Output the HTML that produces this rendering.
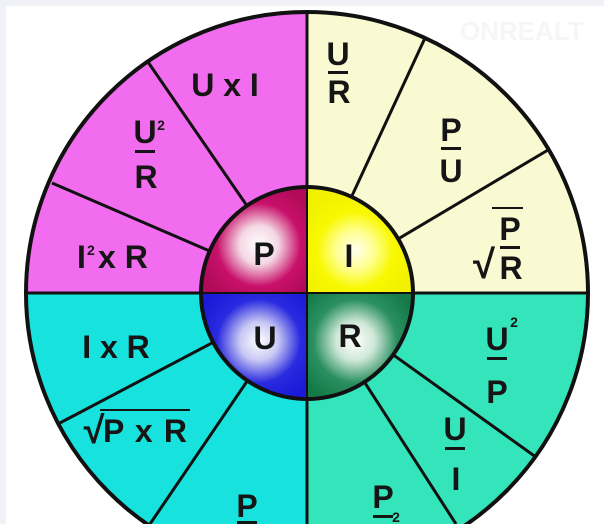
<!DOCTYPE html>
<html><head><meta charset="utf-8">
<style>
html,body{margin:0;padding:0;background:#fff;width:604px;height:524px;overflow:hidden;}
svg{display:block;}
text{font-family:"Liberation Sans",Arial,sans-serif;font-weight:bold;fill:#151515;}
</style></head>
<body>
<svg width="604" height="524" viewBox="0 0 604 524" xmlns="http://www.w3.org/2000/svg">
<defs>
<radialGradient id="gP" cx="0.55" cy="0.55" r="0.6"><stop offset="0" stop-color="#fff"/><stop offset="0.3" stop-color="#f4d8e4"/><stop offset="0.65" stop-color="#c8106a"/><stop offset="1" stop-color="#b00a58"/></radialGradient>
<radialGradient id="gI" cx="0.45" cy="0.6" r="0.6"><stop offset="0" stop-color="#fffff0"/><stop offset="0.3" stop-color="#ffff90"/><stop offset="0.6" stop-color="#f8f800"/><stop offset="1" stop-color="#f0f000"/></radialGradient>
<radialGradient id="gU" cx="0.55" cy="0.45" r="0.6"><stop offset="0" stop-color="#fff"/><stop offset="0.3" stop-color="#c8c8f4"/><stop offset="0.65" stop-color="#2a2ae0"/><stop offset="1" stop-color="#1a1ad8"/></radialGradient>
<radialGradient id="gR" cx="0.45" cy="0.45" r="0.6"><stop offset="0" stop-color="#fff"/><stop offset="0.3" stop-color="#cfe8d8"/><stop offset="0.65" stop-color="#2a9060"/><stop offset="1" stop-color="#157a48"/></radialGradient>
<clipPath id="outer"><circle cx="307" cy="293" r="281"/></clipPath>
<clipPath id="inner"><circle cx="307" cy="293" r="106"/></clipPath>
<clipPath id="frame"><rect x="0" y="0" width="604" height="524"/></clipPath>
</defs>
<g clip-path="url(#frame)">
<rect x="0" y="0" width="604" height="6" fill="#f1f1f8"/>
<rect x="0" y="0" width="6" height="524" fill="#f1f1f8"/>
<g clip-path="url(#outer)">
<rect x="0" y="0" width="307" height="293" fill="#f26cf0"/>
<rect x="307" y="0" width="297" height="293" fill="#fafad2"/>
<rect x="0" y="293" width="307" height="231" fill="#18e2de"/>
<rect x="307" y="293" width="297" height="231" fill="#34e4ba"/>
<g stroke="#111" stroke-width="3">
<line x1="307" y1="0" x2="307" y2="524"/>
<line x1="0" y1="293" x2="604" y2="293"/>
<line x1="307" y1="293" x2="148" y2="62"/>
<line x1="307" y1="293" x2="52" y2="183"/>
<line x1="307" y1="293" x2="425" y2="38"/>
<line x1="307" y1="293" x2="548" y2="150"/>
<line x1="307" y1="293" x2="56" y2="425"/>
<line x1="307" y1="293" x2="150" y2="524"/>
<line x1="307" y1="293" x2="547" y2="465"/>
<line x1="307" y1="293" x2="456" y2="524"/>
</g>
</g>
<circle cx="307" cy="293" r="281" fill="none" stroke="#111" stroke-width="4"/>
<g clip-path="url(#inner)">
<rect x="200" y="186" width="107" height="107" fill="url(#gP)"/>
<rect x="307" y="186" width="107" height="107" fill="url(#gI)"/>
<rect x="200" y="293" width="107" height="107" fill="url(#gU)"/>
<rect x="307" y="293" width="107" height="107" fill="url(#gR)"/>
<line x1="307" y1="180" x2="307" y2="410" stroke="#111" stroke-width="2"/>
<line x1="195" y1="293" x2="420" y2="293" stroke="#111" stroke-width="2"/>
</g>
<circle cx="307" cy="293" r="106" fill="none" stroke="#111" stroke-width="4"/>
<g font-size="32" text-anchor="middle">
<text x="264" y="265">P</text>
<text x="349" y="267">I</text>
<text x="265" y="349">U</text>
<text x="350" y="347">R</text>
</g>
<g font-size="32" text-anchor="middle">
<text x="225" y="96">U x I</text>
<text x="145" y="143">U</text><rect x="135" y="150" width="20" height="3" fill="#151515"/><text x="146" y="188">R</text>
<text x="161" y="130" font-size="14">2</text>
<text x="77" y="268" text-anchor="start">I</text><text x="87" y="255" font-size="14" text-anchor="start">2</text>
<text x="98" y="268" text-anchor="start">x R</text>
<text x="338" y="65">U</text><rect x="328" y="71" width="20" height="3" fill="#151515"/><text x="339" y="103">R</text>
<text x="451" y="141">P</text><rect x="441" y="147" width="20" height="3" fill="#151515"/><text x="451" y="182">U</text>
<text x="510" y="240">P</text><rect x="500" y="246" width="20" height="3" fill="#151515"/><text x="511" y="279">R</text>
<text x="484" y="278" font-size="40" font-weight="normal">√</text>
<line x1="492" y1="208" x2="523" y2="208" stroke="#151515" stroke-width="2"/>
<text x="116" y="358">I x R</text>
<text x="145" y="442" textLength="84">P x R</text>
<text x="94" y="443" font-size="38" font-weight="normal">√</text>
<line x1="100" y1="410" x2="190" y2="410" stroke="#151515" stroke-width="2"/>
<text x="247" y="517">P</text><rect x="237" y="521" width="20" height="3" fill="#151515"/>
<text x="497" y="350">U</text><rect x="487" y="357" width="20" height="3" fill="#151515"/><text x="497" y="403">P</text>
<text x="514" y="327" font-size="14">2</text>
<text x="455" y="440">U</text><rect x="445" y="447" width="20" height="3" fill="#151515"/><text x="456" y="490">I</text>
<text x="383" y="508">P</text><rect x="373" y="515" width="20" height="3" fill="#151515"/>
<text x="396" y="522" font-size="14">2</text>
</g>
<text x="460" y="40" font-size="26" style="fill:#f6f6f6;font-weight:bold">ONREALT</text>
</g>
</svg>
</body></html>
